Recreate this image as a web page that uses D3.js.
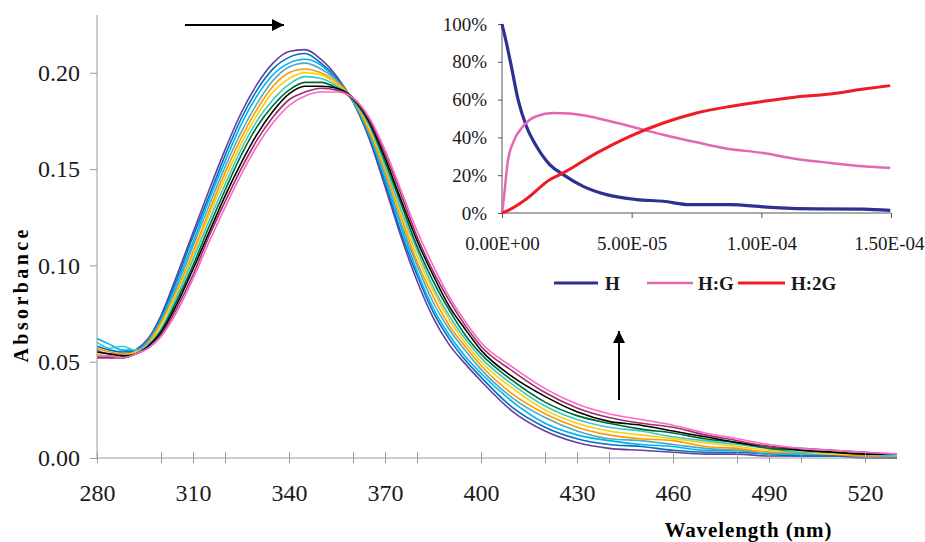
<!DOCTYPE html>
<html>
<head>
<meta charset="utf-8">
<script src="https://cdn.jsdelivr.net/npm/d3@7"></script>
<style>
  body { margin: 0; background: #ffffff; }
  svg { display: block; }
</style>
</head>
<body>
<div id="chart"></div>
<script>
// wavelength grid (nm) shared by all spectra
var wavelengths = [280,284,288,292,296,300,305,310,315,320,325,330,335,340,345,350,355,360,365,370,
  375,380,385,390,395,400,410,420,430,440,450,460,470,480,490,500,510,520,530];

// absorbance spectra, first (highest peak) to last
var spec0  = [.056,.054,.054,.056,.062,.074,.095,.117,.139,.160,.179,.194,.205,.211,.212,.207,.198,.185,.166,.141,.115,.092,.073,.059,.049,.040,.024,.014,.008,.005,.004,.003,.002,.002,.001,.001,.001,.000,.000];
var spec1  = [.058,.056,.055,.056,.061,.073,.093,.115,.136,.157,.176,.191,.202,.208,.210,.205,.197,.185,.167,.143,.117,.095,.076,.062,.051,.042,.026,.016,.010,.007,.006,.004,.003,.003,.002,.001,.001,.001,.000];
var spec2  = [.062,.059,.056,.056,.061,.072,.091,.112,.134,.154,.173,.188,.199,.205,.207,.204,.196,.185,.168,.145,.120,.097,.078,.064,.053,.044,.029,.018,.012,.009,.007,.006,.004,.004,.002,.002,.002,.001,.001];
var spec3  = [.055,.054,.053,.055,.060,.071,.089,.110,.131,.151,.169,.184,.196,.203,.205,.202,.196,.186,.169,.147,.122,.100,.081,.067,.056,.046,.031,.021,.014,.010,.009,.007,.005,.004,.003,.002,.002,.001,.001];
var spec4  = [.057,.055,.054,.055,.060,.070,.087,.107,.128,.148,.166,.181,.193,.200,.202,.200,.195,.186,.170,.149,.125,.102,.084,.069,.058,.048,.033,.023,.016,.012,.010,.009,.006,.005,.003,.003,.002,.001,.001];
var spec5  = [.054,.053,.053,.055,.059,.069,.086,.105,.126,.145,.163,.178,.190,.197,.200,.199,.194,.186,.172,.151,.127,.105,.087,.072,.060,.050,.036,.025,.018,.014,.012,.010,.008,.006,.004,.003,.002,.002,.001];
var spec6  = [.060,.057,.058,.056,.059,.067,.084,.103,.123,.142,.160,.175,.186,.194,.198,.197,.193,.186,.173,.152,.129,.108,.089,.074,.062,.052,.038,.027,.020,.016,.014,.011,.009,.007,.005,.003,.003,.002,.001];
var spec7  = [.053,.053,.052,.054,.058,.066,.082,.100,.120,.139,.157,.172,.183,.191,.195,.195,.192,.186,.174,.154,.132,.110,.092,.077,.064,.054,.040,.029,.022,.018,.015,.013,.010,.008,.005,.004,.003,.002,.002];
var spec8  = [.055,.054,.053,.054,.058,.065,.080,.098,.117,.136,.153,.168,.180,.189,.193,.193,.192,.187,.175,.156,.134,.113,.095,.079,.067,.056,.042,.032,.024,.019,.017,.014,.011,.008,.006,.004,.003,.002,.002];
var spec9  = [.052,.052,.052,.054,.057,.064,.078,.095,.115,.133,.150,.165,.177,.186,.190,.192,.191,.187,.176,.158,.137,.115,.097,.082,.069,.058,.045,.034,.026,.021,.018,.016,.012,.009,.006,.005,.004,.003,.002];
var spec10 = [.053,.053,.052,.054,.057,.063,.076,.093,.112,.130,.147,.162,.174,.183,.188,.190,.190,.187,.177,.160,.139,.118,.100,.084,.071,.060,.047,.036,.028,.023,.020,.017,.013,.010,.007,.005,.004,.003,.002];

var spectra = [spec0, spec1, spec2, spec3, spec4, spec5, spec6, spec7, spec8, spec9, spec10];
var specColours = ["#6a3d9a","#0070c0","#00b0f0","#4bacc6","#ff9900","#ffcc00","#33cccc","#006633","#000000","#993366","#ff66cc"];

var xTicks = [280,300,310,320,340,360,370,380,400,420,430,440,460,480,490,500,520];
var xLabels = [280,310,340,370,400,430,460,490,520];
var yTicks = [0, 0.05, 0.10, 0.15, 0.20];

// inset: species distribution vs guest concentration (units of 1e-5 M)
var hConc   = [0, 0.17, 0.36, 0.62, 0.94, 1.33, 1.84, 2.36, 3.13, 4.03, 5.19, 6.22, 7.25, 8.79, 10.08, 11.36, 13.94, 14.97];
var hPct    = [100, 90, 77.6, 60, 45.9, 35.3, 25.6, 20.3, 14.1, 9.7, 7.1, 6.2, 4.4, 4.4, 3.2, 2.3, 2.1, 1.4];
var hgConc  = [0, 0.064, 0.23, 0.42, 0.81, 1.33, 1.97, 2.61, 3.64, 4.93, 6.22, 7.5, 8.53, 10.08, 11.36, 12.66, 13.94, 14.97];
var hgPct   = [0, 7, 28, 37, 45.9, 51.2, 52.9, 52.6, 50.3, 45.9, 41.4, 37.4, 34.4, 31.7, 28.6, 26.5, 24.7, 23.8];
var h2gConc = [0, 0.3, 0.94, 1.84, 2.36, 3.64, 4.93, 6.22, 7.5, 8.79, 10.08, 11.36, 12.66, 13.94, 14.97];
var h2gPct  = [0, 1.8, 7.4, 17.6, 21.2, 31.7, 40.6, 47.6, 52.9, 56.4, 59.1, 61.4, 63, 65.6, 67.4];

var insetXTicks = [0, 5, 10, 15];
var insetXLabels = ["0.00E+00", "5.00E-05", "1.00E-04", "1.50E-04"];
var insetYTicks = [0, 20, 40, 60, 80, 100];
var legendNames = ["H", "H:G", "H:2G"];
var legendColours = ["#2e3192", "#e466b4", "#ee1c24"];

var W = 925, H = 542;
var svg = d3.select("#chart").append("svg").attr("width", W).attr("height", H);

var axisGrey = "#9a9a9a";
var serif = "'Liberation Serif', 'Times New Roman', serif";

var x = d3.scaleLinear().domain([280, 530]).range([97, 897]);
var y = d3.scaleLinear().domain([0, 0.23]).range([458, 15]);

// spectra
var line = d3.line()
  .x(function(d, i) { return x(wavelengths[i]); })
  .y(function(d) { return y(d); })
  .curve(d3.curveMonotoneX);

svg.append("g").selectAll("path")
  .data(spectra)
  .enter().append("path")
  .attr("fill", "none")
  .attr("stroke", function(d, i) { return specColours[i]; })
  .attr("stroke-width", 1.6)
  .attr("d", line);

// main axes
var yAxis = svg.append("g")
  .attr("transform", "translate(97,0)")
  .call(d3.axisLeft(y).tickValues(yTicks).tickSize(7).tickPadding(10)
    .tickFormat(d3.format(".2f")));
yAxis.select(".domain").attr("d", "M0,15V458");

var xAxis = svg.append("g")
  .attr("transform", "translate(0,458)")
  .call(d3.axisBottom(x).tickValues(xTicks).tickSize(5).tickPadding(10)
    .tickFormat(function(d) { return xLabels.indexOf(d) >= 0 ? d : ""; }));
xAxis.select(".domain").attr("d", "M97,0H897");
xAxis.selectAll(".tick line").attr("y1", -6).attr("y2", 5);
xAxis.selectAll(".tick text").attr("y", 43).attr("dy", 0);

[yAxis, xAxis].forEach(function(g) {
  g.selectAll(".domain, .tick line").attr("stroke", axisGrey);
  g.selectAll("text").attr("font-family", serif).attr("font-size", 24).attr("fill", "#1a1a1a");
});

svg.append("text")
  .attr("transform", "translate(28,296) rotate(-90)")
  .attr("text-anchor", "middle")
  .attr("font-family", serif).attr("font-weight", "bold").attr("font-size", 20)
  .attr("textLength", 133).attr("lengthAdjust", "spacing")
  .text("Absorbance");

svg.append("text")
  .attr("x", 748).attr("y", 537)
  .attr("text-anchor", "middle")
  .attr("font-family", serif).attr("font-weight", "bold").attr("font-size", 21)
  .attr("textLength", 167).attr("lengthAdjust", "spacing")
  .text("Wavelength (nm)");

// arrows
svg.append("defs").append("marker")
  .attr("id", "head")
  .attr("viewBox", "0 0 10 10")
  .attr("refX", 10).attr("refY", 5)
  .attr("markerWidth", 7).attr("markerHeight", 6)
  .attr("markerUnits", "strokeWidth")
  .attr("orient", "auto")
  .append("path").attr("d", "M0,0L10,5L0,10z").attr("fill", "#000");

svg.append("line").attr("x1", 185).attr("y1", 25).attr("x2", 284).attr("y2", 25)
  .attr("stroke", "#000").attr("stroke-width", 2).attr("marker-end", "url(#head)");
svg.append("line").attr("x1", 619).attr("y1", 400).attr("x2", 619).attr("y2", 331)
  .attr("stroke", "#000").attr("stroke-width", 2).attr("marker-end", "url(#head)");

// inset
var xi = d3.scaleLinear().domain([0, 15]).range([502, 891]);
var yi = d3.scaleLinear().domain([0, 100]).range([213, 24]);

var insetSeries = [
  {conc: hConc, pct: hPct, width: 3.2},
  {conc: hgConc, pct: hgPct, width: 2.5},
  {conc: h2gConc, pct: h2gPct, width: 3}
];

var iy = svg.append("g")
  .attr("transform", "translate(502,0)")
  .call(d3.axisLeft(yi).tickValues(insetYTicks).tickSize(4).tickPadding(11)
    .tickFormat(function(d) { return d + "%"; }));
var ix = svg.append("g")
  .attr("transform", "translate(0,213)")
  .call(d3.axisBottom(xi).tickValues(insetXTicks).tickSize(5).tickPadding(10)
    .tickFormat(function(d, i) { return insetXLabels[i]; }));
ix.selectAll(".tick text").attr("y", 37).attr("dy", 0);
// last label sits against the right edge, as in the original
ix.selectAll(".tick text").filter(function(d) { return d === 15; })
  .attr("text-anchor", "end").attr("x", 33);

[iy, ix].forEach(function(g) {
  g.selectAll(".domain, .tick line").attr("stroke", "#555");
  g.selectAll("text").attr("font-family", serif).attr("font-size", 19).attr("fill", "#1a1a1a");
});
iy.select(".domain").attr("d", "M0,213V24");
ix.select(".domain").attr("d", "M502,0H891");

var insetLine = d3.line()
  .x(function(d) { return xi(d[0]); })
  .y(function(d) { return yi(d[1]); })
  .curve(d3.curveMonotoneX);

svg.append("g").selectAll("path")
  .data(insetSeries)
  .enter().append("path")
  .attr("fill", "none")
  .attr("stroke", function(d, i) { return legendColours[i]; })
  .attr("stroke-width", function(d) { return d.width; })
  .attr("d", function(d) { return insetLine(d.conc.map(function(c, j) { return [c, d.pct[j]]; })); });

// legend
var legendX = [[554, 598, 605], [647, 693, 698], [738, 785, 791]];
var legend = svg.append("g").selectAll("g")
  .data(legendNames)
  .enter().append("g");
legend.append("line")
  .attr("x1", function(d, i) { return legendX[i][0]; })
  .attr("x2", function(d, i) { return legendX[i][1]; })
  .attr("y1", 283).attr("y2", 283)
  .attr("stroke", function(d, i) { return legendColours[i]; })
  .attr("stroke-width", function(d, i) { return insetSeries[i].width; });
legend.append("text")
  .attr("x", function(d, i) { return legendX[i][2]; })
  .attr("y", 290)
  .attr("font-family", serif).attr("font-weight", "bold").attr("font-size", 19)
  .attr("fill", "#1a1a1a")
  .text(function(d) { return d; });
</script>
</body>
</html>
